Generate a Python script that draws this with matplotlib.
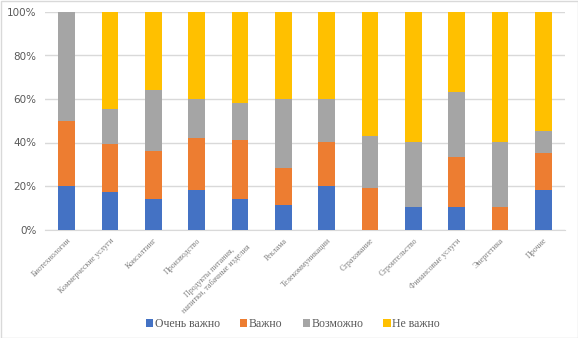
import matplotlib.pyplot as plt
import numpy as np
from matplotlib.patches import Rectangle
from matplotlib.ticker import PercentFormatter

# Industries and the share of each answer (percent)
categories = ['Биотехнологии', 'Коммерческие услуги', 'Консалтинг', 'Производство',
              'Продукты питания,\nнапитки, табачные изделия', 'Реклама', 'Телекоммуникации',
              'Страхование', 'Строительство', 'Финансовые услуги', 'Энергетика', 'Прочие']
very_important = [20, 17.2, 13.9, 18.1, 13.9, 11.2, 20, 0, 10.3, 10.3, 0, 18.1]
important = [30, 22.1, 22.1, 24.1, 27.2, 17.2, 20.2, 19.2, 0, 23.0, 10.3, 17.0]
possible = [50, 16.1, 28.1, 17.8, 17.0, 31.6, 19.8, 23.7, 29.9, 29.9, 29.9, 10.1]
not_important = [0, 44.6, 35.9, 40.0, 41.9, 40.0, 40.0, 57.1, 59.8, 36.8, 59.8, 54.8]

series = [('Очень важно', very_important, '#4472c4'),
          ('Важно', important, '#ed7d31'),
          ('Возможно', possible, '#a5a5a5'),
          ('Не важно', not_important, '#ffc000')]

fig = plt.figure(figsize=(5.78, 3.38), dpi=100)
ax = fig.add_axes([45 / 578, 108.5 / 338, 520 / 578, 217.5 / 338])

x = np.arange(len(categories))
bottom = np.zeros(len(categories))
for name, vals, color in series:
    vals = np.array(vals, dtype=float)
    ax.bar(x, vals, 0.39, bottom=bottom, color=color, label=name, zorder=3)
    bottom += vals

ax.set_xlim(-0.5, len(categories) - 0.5)
ax.set_ylim(0, 100)
ax.set_yticks(range(0, 101, 20))
ax.yaxis.set_major_formatter(PercentFormatter(decimals=0))
ax.grid(axis='y', color='#d9d9d9', linewidth=1, zorder=0)
for side in ['top', 'right', 'left']:
    ax.spines[side].set_visible(False)
ax.spines['bottom'].set_color('#d9d9d9')
ax.tick_params(axis='both', length=0, colors='#595959')
ax.tick_params(axis='y', labelsize=7.5, pad=6)

ax.set_xticks(x)
ax.set_xticklabels(categories, rotation=45, ha='right', va='top', rotation_mode='anchor',
                   family='Liberation Serif', fontsize=5.8, color='#7f7f7f',
                   multialignment='center')
ax.tick_params(axis='x', pad=5)

leg = fig.legend(loc='center', bbox_to_anchor=(293 / 578, 1 - 324 / 338), ncol=4,
                 frameon=False, prop={'family': 'Liberation Serif', 'size': 8.5},
                 handlelength=0.6, handleheight=0.6, handletextpad=0.15, columnspacing=1.7)
for t in leg.get_texts():
    t.set_color('#595959')

fig.patches.append(Rectangle((0.5 / 578, 0.5 / 338), 577 / 578, 337 / 338, transform=fig.transFigure,
                             fill=False, edgecolor='#d9d9d9', linewidth=1))

fig.savefig('out.png', dpi=100)
